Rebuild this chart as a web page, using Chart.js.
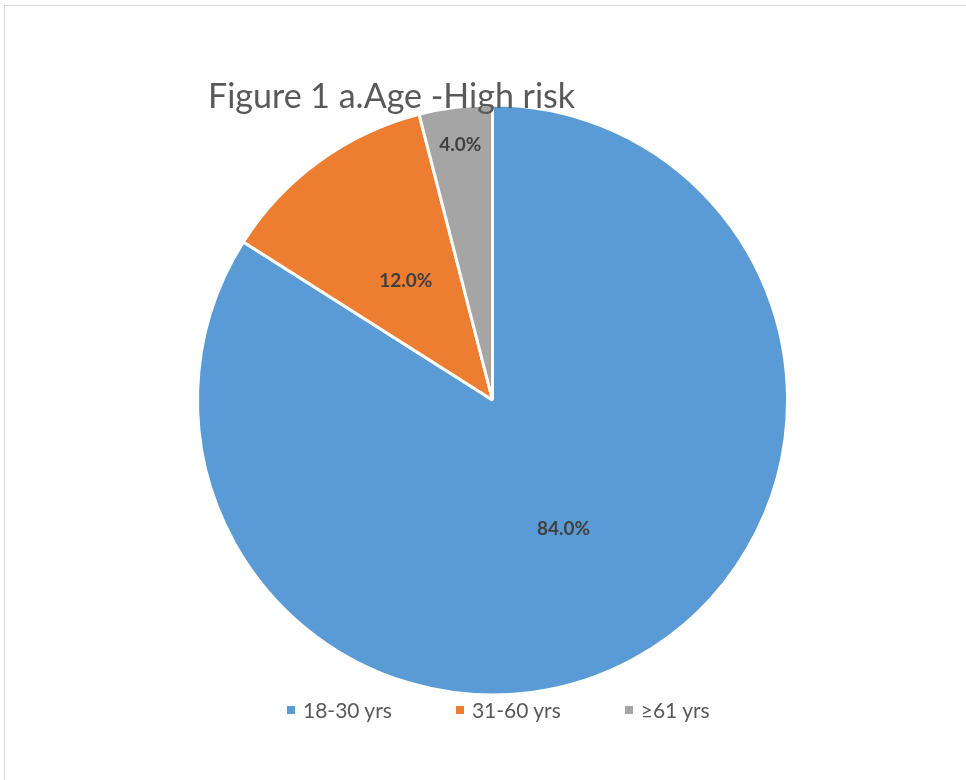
<!DOCTYPE html>
<html>
<head>
<meta charset="utf-8">
<title>Figure 1 a.Age -High risk</title>
<script src="https://cdn.jsdelivr.net/npm/chart.js@4.4.1/dist/chart.umd.min.js"></script>
<style>
  html, body { margin: 0; padding: 0; background: #fff; overflow: hidden; }
  #wrap { position: relative; width: 966px; height: 780px; }
  #frame { position: absolute; left: 4px; top: 5px; width: 1200px; height: 1200px;
           border: 1px solid #d9d9d9; box-sizing: border-box; }
  #pie { position: absolute; left: 0; top: 0; }
  #title { position: absolute; left: 208px; top: 75px; font: 34px Lato, sans-serif;
           line-height: 40px; color: #595959; white-space: nowrap; }
  #legend { position: absolute; left: 287px; top: 697px; display: flex; align-items: center;
            font: 21px Lato, sans-serif; color: #595959; line-height: 25px; }
  .item { display: flex; align-items: center; margin-right: 64px; }
  .swatch { width: 8px; height: 8px; margin-right: 8px; }
</style>
</head>
<body>
<div id="wrap">
  <div id="frame"></div>
  <canvas id="pie" width="966" height="780"></canvas>
  <div id="title"></div>
  <div id="legend"></div>
</div>
<script>
const chartTitle = 'Figure 1 a.Age -High risk';
const categories = ['18-30 yrs', '31-60 yrs', '\u226561 yrs'];
const shares = [84.0, 12.0, 4.0];
const sliceColors = ['#5b9bd5', '#ed7d31', '#a5a5a5'];

// percentage labels drawn on the slices
const sliceLabels = {
    id: 'sliceLabels',
    afterDatasetsDraw(chart, args, opts) {
        const ctx = chart.ctx;
        const meta = chart.getDatasetMeta(0);
        ctx.save();
        ctx.font = opts.font;
        ctx.fillStyle = opts.color;
        ctx.textAlign = 'center';
        ctx.textBaseline = 'middle';
        meta.data.forEach((arc, i) => {
            const p = arc.getProps(['x', 'y', 'startAngle', 'endAngle', 'outerRadius'], true);
            const mid = (p.startAngle + p.endAngle) / 2;
            const r = p.outerRadius * opts.radial[i];
            ctx.fillText(shares[i].toFixed(1) + '%', p.x + Math.cos(mid) * r, p.y + Math.sin(mid) * r);
        });
        ctx.restore();
    }
};

document.getElementById('title').textContent = chartTitle;

const legend = document.getElementById('legend');
categories.forEach((name, i) => {
    const item = document.createElement('div');
    item.className = 'item';
    const sw = document.createElement('span');
    sw.className = 'swatch';
    sw.style.background = sliceColors[i];
    const txt = document.createElement('span');
    txt.textContent = name;
    item.appendChild(sw);
    item.appendChild(txt);
    legend.appendChild(item);
});

new Chart(document.getElementById('pie').getContext('2d'), {
    type: 'pie',
    data: {
        labels: categories,
        datasets: [{
            data: shares,
            backgroundColor: sliceColors,
            borderColor: '#ffffff',
            borderWidth: 3
        }]
    },
    options: {
        responsive: false,
        animation: false,
        layout: { padding: { left: 196, right: 177, top: 103, bottom: 83 } },
        plugins: {
            legend: { display: false },
            title: { display: false },
            tooltip: { enabled: false },
            sliceLabels: {
                font: 'bold 19px Lato, sans-serif',
                color: '#404040',
                radial: [0.5, 0.5, 0.87]
            }
        }
    },
    plugins: [sliceLabels]
});
</script>
</body>
</html>
